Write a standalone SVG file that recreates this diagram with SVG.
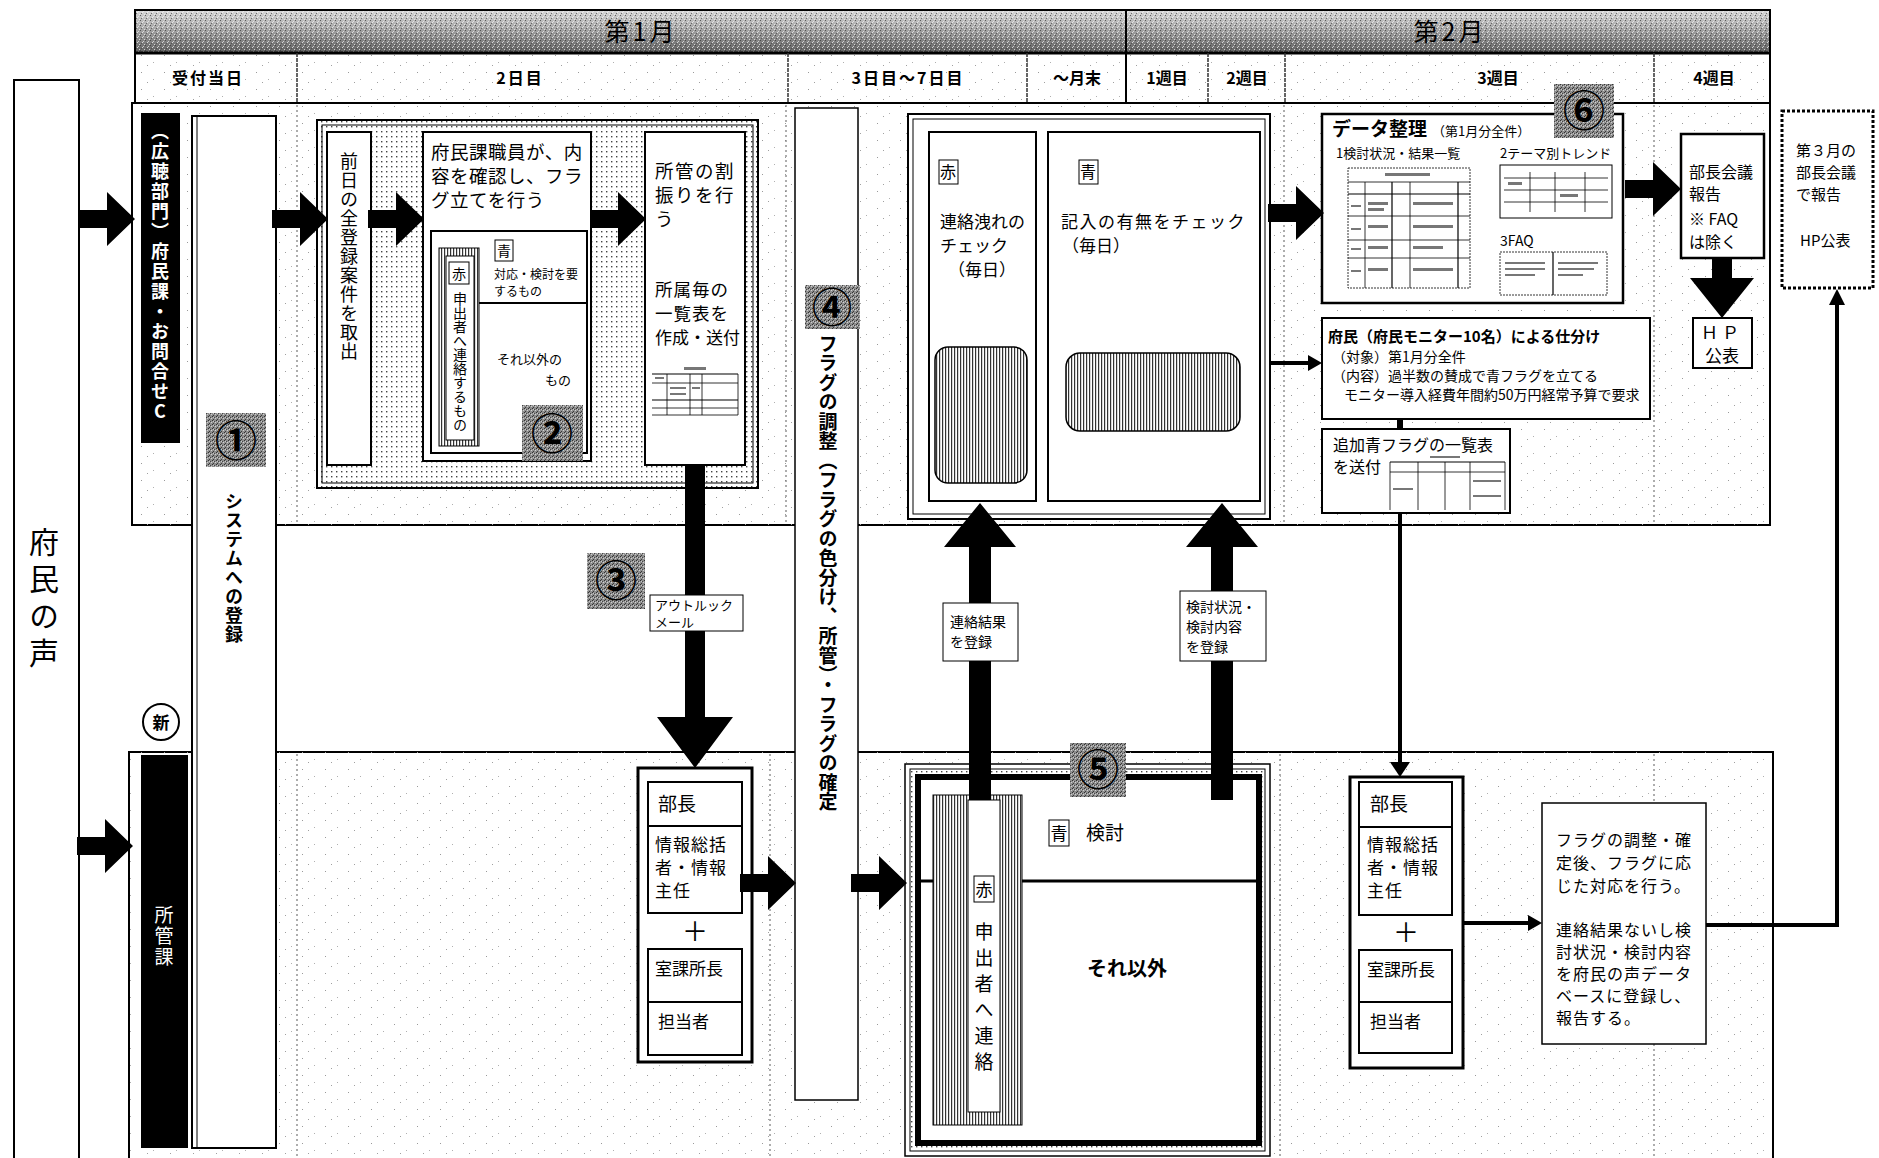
<svg xmlns="http://www.w3.org/2000/svg" width="1879" height="1158" viewBox="0 0 1879 1158">
<style>
text { font-family: 'Noto Sans CJK JP', 'Noto Sans', sans-serif; fill: #000; }
.b { font-weight: bold; }
.v { writing-mode: vertical-rl; text-orientation: upright; }
.box { fill: #fff; stroke: #000; stroke-width: 2; }
.box3 { fill: #fff; stroke: #000; stroke-width: 3; }
.thin { fill: none; stroke: #000; stroke-width: 1.2; }
.tb { fill: none; stroke: #000; stroke-width: 0.8; }
.blk { fill: #000; }
.ln { fill: none; stroke: #000; stroke-width: 4; }
.sep { stroke: #777; stroke-width: 1.2; stroke-dasharray: 2 3; }
.hdiv { stroke: #333; stroke-width: 1.5; stroke-dasharray: 4 1; }
.wt { fill: #fff; }
.scrib { fill: #777; }
</style>
<defs>
  <linearGradient id="hdr" x1="0" y1="0" x2="0" y2="1">
    <stop offset="0" stop-color="#d8d8d8"/>
    <stop offset="0.45" stop-color="#a4a4a4"/>
    <stop offset="1" stop-color="#5e5e5e"/>
  </linearGradient>
  <pattern id="speck" width="23" height="17" patternUnits="userSpaceOnUse">
    <rect x="3" y="4" width="1" height="1" fill="#9a9a9a"/>
    <rect x="15" y="11" width="1" height="1" fill="#b0b0b0"/>
    <rect x="9" y="14" width="1" height="1" fill="#a0a0a0"/>
  </pattern>
  <pattern id="speckD" width="5" height="5" patternUnits="userSpaceOnUse">
    <rect x="0" y="0" width="1" height="1" fill="#333"/>
    <rect x="3" y="1" width="1" height="1" fill="#f4f4f4"/>
    <rect x="1" y="3" width="1" height="1" fill="#444"/>
    <rect x="4" y="4" width="1" height="1" fill="#fafafa"/>
    <rect x="2" y="2" width="1" height="1" fill="#fff"/>
  </pattern>
  <pattern id="dots" width="5" height="5" patternUnits="userSpaceOnUse">
    <rect width="5" height="5" fill="#fff"/>
    <rect x="1" y="1" width="1.4" height="1.4" fill="#444"/>
  </pattern>
  <pattern id="hatch" width="3" height="3" patternUnits="userSpaceOnUse">
    <rect width="3" height="3" fill="#fff"/>
    <rect x="0" y="0" width="1.2" height="3" fill="#333"/>
  </pattern>
  <pattern id="noise" width="4" height="4" patternUnits="userSpaceOnUse">
    <rect width="4" height="4" fill="#8e8e8e"/>
    <rect x="0" y="0" width="1" height="1" fill="#333"/>
    <rect x="2" y="1" width="1" height="1" fill="#444"/>
    <rect x="1" y="3" width="1" height="1" fill="#3a3a3a"/>
    <rect x="3" y="2" width="1" height="1" fill="#d0d0d0"/>
    <rect x="1" y="1" width="1" height="1" fill="#c8c8c8"/>
  </pattern>
  <path id="ar" d="M0,-9 H28 V-27 L56,0 L28,27 V9 H0 Z"/>
</defs>

<rect width="1879" height="1158" fill="#fff"/>

<!-- header -->
<g id="header">
  <rect x="135" y="10" width="1635" height="43" fill="url(#hdr)"/>
  <rect x="135" y="10" width="1635" height="43" fill="url(#speckD)" opacity="0.7"/>
  <rect x="135" y="53" width="1635" height="50" fill="url(#speck)"/>
  <rect x="135" y="10" width="1635" height="93" fill="none" stroke="#000" stroke-width="2"/>
  <line x1="135" y1="53" x2="1770" y2="53" stroke="#000" stroke-width="3"/>
  <line x1="1126" y1="10" x2="1126" y2="103" stroke="#000" stroke-width="2"/>
  <line x1="297" y1="53" x2="297" y2="103" class="hdiv"/>
  <line x1="788" y1="53" x2="788" y2="103" class="hdiv"/>
  <line x1="1027" y1="53" x2="1027" y2="103" class="hdiv"/>
  <line x1="1208" y1="53" x2="1208" y2="103" class="hdiv"/>
  <line x1="1285" y1="53" x2="1285" y2="103" class="hdiv"/>
  <line x1="1654" y1="53" x2="1654" y2="103" class="hdiv"/>
  <text x="641" y="41" font-size="25" text-anchor="middle" letter-spacing="3">第1月</text>
  <text x="1450" y="41" font-size="25" text-anchor="middle" letter-spacing="3">第2月</text>
  <text x="208" y="84" font-size="16" text-anchor="middle" class="b" letter-spacing="2">受付当日</text>
  <text x="520" y="84" font-size="16" text-anchor="middle" class="b" letter-spacing="2">2日目</text>
  <text x="908" y="84" font-size="16" text-anchor="middle" class="b" letter-spacing="2">3日目～7日目</text>
  <text x="1077" y="84" font-size="16" text-anchor="middle" class="b">～月末</text>
  <text x="1167" y="84" font-size="16" text-anchor="middle" class="b">1週目</text>
  <text x="1247" y="84" font-size="16" text-anchor="middle" class="b">2週目</text>
  <text x="1498" y="84" font-size="16" text-anchor="middle" class="b">3週目</text>
  <text x="1714" y="84" font-size="16" text-anchor="middle" class="b">4週目</text>
</g>

<!-- lanes -->
<g id="lane-top">
  <rect x="132" y="103" width="1638" height="422" fill="#fff" stroke="#000" stroke-width="2"/>
  <rect x="132" y="103" width="1638" height="422" fill="url(#speck)"/>
  <line x1="297" y1="105" x2="297" y2="523" class="sep"/>
  <line x1="786" y1="105" x2="786" y2="523" class="sep"/>
  <line x1="1284" y1="105" x2="1284" y2="523" class="sep"/>
  <line x1="1654" y1="105" x2="1654" y2="523" class="sep"/>
</g>
<g id="lane-bottom">
  <rect x="129" y="752" width="1644" height="420" fill="#fff" stroke="#000" stroke-width="2"/>
  <rect x="129" y="752" width="1644" height="420" fill="url(#speck)"/>
  <line x1="297" y1="754" x2="297" y2="1158" class="sep"/>
  <line x1="770" y1="754" x2="770" y2="1158" class="sep"/>
  <line x1="1280" y1="754" x2="1280" y2="1158" class="sep"/>
  <line x1="1654" y1="754" x2="1654" y2="1158" class="sep"/>
</g>

<!-- 府民の声 -->
<g id="fumin-no-koe">
  <rect x="14" y="80" width="65" height="1095" class="box"/>
  <text x="44" y="527" font-size="30" class="v" letter-spacing="7">府民の声</text>
</g>

<g id="label-fuminka">
  <rect x="141" y="113" width="39" height="330" class="blk"/>
  <text x="160" y="122" font-size="18" class="v b wt" letter-spacing="2">（広聴部門）府民課・お問合せC</text>
</g>

<g id="label-shokanka">
  <rect x="141" y="755" width="47" height="393" class="blk"/>
  <text x="164" y="905" font-size="19" class="v wt" letter-spacing="2">所管課</text>
</g>

<g id="shin">
  <circle cx="161" cy="722" r="18" fill="#fff" stroke="#000" stroke-width="2"/>
  <text x="161" y="729" font-size="17" class="b" text-anchor="middle">新</text>
</g>

<!-- ① -->
<g id="step1">
  <rect x="192" y="116" width="84" height="1032" class="box"/>
  <line x1="197" y1="117" x2="197" y2="1147" stroke="#000" stroke-width="1"/>
  <rect x="206" y="413" width="60" height="54" fill="url(#noise)"/>
  <text x="236" y="456" font-size="42" class="b" text-anchor="middle">①</text>
  <text x="234" y="492" font-size="18" class="v b" letter-spacing="1">システムへの登録</text>
</g>

<!-- ② -->
<g id="step2">
  <rect x="317" y="120" width="441" height="368" fill="url(#dots)" stroke="#000" stroke-width="2"/>
  <rect x="322" y="125" width="431" height="358" fill="none" stroke="#000" stroke-width="1"/>
  <g id="toridashi">
    <rect x="327" y="132" width="44" height="333" class="box"/>
    <text x="349" y="152" font-size="18" class="v" letter-spacing="1">前日の全登録案件を取出</text>
  </g>
  <g id="flagtate">
    <rect x="423" y="132" width="168" height="329" class="box"/>
    <text x="431" y="159" font-size="18.5" letter-spacing="0.5">府民課職員が、内</text>
    <text x="431" y="183" font-size="18.5" letter-spacing="0.5">容を確認し、フラ</text>
    <text x="431" y="207" font-size="18.5" letter-spacing="0.5">グ立てを行う</text>
    <rect x="431" y="231" width="156" height="222" fill="#fff" stroke="#000" stroke-width="2"/>
    <line x1="479" y1="303" x2="587" y2="303" stroke="#000" stroke-width="2"/>
    <rect x="439" y="248" width="40" height="198" fill="url(#hatch)" stroke="#000" stroke-width="1"/>
    <rect x="446" y="256" width="28" height="184" fill="#fff" stroke="#000" stroke-width="1"/>
    <rect x="449" y="262" width="20" height="22" fill="#fff" stroke="#000" stroke-width="1"/>
    <text x="459" y="279" font-size="14" text-anchor="middle">赤</text>
    <text x="460" y="292" font-size="14" class="v">申出者へ連絡するもの</text>
    <rect x="495" y="240" width="18" height="21" fill="#fff" stroke="#000" stroke-width="1"/>
    <text x="504" y="256" font-size="14" text-anchor="middle">青</text>
    <text x="494" y="279" font-size="12">対応・検討を要</text>
    <text x="494" y="296" font-size="12">するもの</text>
    <text x="497" y="364" font-size="13">それ以外の</text>
    <text x="545" y="385" font-size="13">もの</text>
    <rect x="522" y="405" width="61" height="56" fill="url(#noise)"/>
    <text x="552" y="449" font-size="42" class="b" text-anchor="middle">②</text>
  </g>
  <g id="warifuri">
    <rect x="645" y="132" width="100" height="333" class="box"/>
    <text x="655" y="178" font-size="18.5" letter-spacing="1.5">所管の割</text>
    <text x="655" y="202" font-size="18.5" letter-spacing="1.5">振りを行</text>
    <text x="655" y="226" font-size="18.5">う</text>
    <text x="655" y="296" font-size="17.5" letter-spacing="1">所属毎の</text>
    <text x="655" y="320" font-size="17.5" letter-spacing="1">一覧表を</text>
    <text x="655" y="344" font-size="17">作成・送付</text>
    <rect x="684" y="367" width="22" height="3" class="scrib"/>
    <line x1="652" y1="374" x2="738" y2="374" stroke="#000" stroke-width="1.2"/>
    <line x1="652" y1="383" x2="738" y2="383" class="tb"/>
    <line x1="652" y1="400" x2="738" y2="400" stroke="#000" stroke-width="1.2"/>
    <line x1="652" y1="408" x2="738" y2="408" class="tb"/>
    <line x1="652" y1="415" x2="738" y2="415" class="tb"/>
    <line x1="667" y1="374" x2="667" y2="415" class="tb"/>
    <line x1="690" y1="374" x2="690" y2="415" class="tb"/>
    <line x1="702" y1="374" x2="702" y2="415" class="tb"/>
    <line x1="738" y1="374" x2="738" y2="415" class="tb"/>
    <rect x="655" y="377" width="9" height="2" class="scrib"/>
    <rect x="670" y="387" width="16" height="2" class="scrib"/>
    <rect x="670" y="393" width="16" height="2" class="scrib"/>
    <rect x="692" y="387" width="8" height="2" class="scrib"/>
  </g>
</g>

<!-- ④ -->
<g id="step4">
  <rect x="795" y="108" width="63" height="992" fill="#fff" stroke="#000" stroke-width="1.5"/>
  <rect x="805" y="285" width="55" height="44" fill="url(#noise)"/>
  <text x="832" y="322" font-size="40" class="b" text-anchor="middle">④</text>
  <text x="828" y="334" font-size="19" class="v b" letter-spacing="0.5">フラグの調整（フラグの色分け、所管）・フラグの確定</text>
</g>

<!-- 赤/青 check -->
<g id="check">
  <rect x="908" y="114" width="362" height="405" fill="#fff" stroke="#000" stroke-width="2"/>
  <rect x="913" y="119" width="352" height="395" fill="none" stroke="#000" stroke-width="1"/>
  <g id="check-aka">
    <rect x="929" y="132" width="107" height="369" class="box"/>
    <rect x="939" y="160" width="19" height="24" fill="#fff" stroke="#000" stroke-width="1"/>
    <text x="948" y="178" font-size="16" text-anchor="middle">赤</text>
    <text x="940" y="228" font-size="17">連絡洩れの</text>
    <text x="940" y="252" font-size="17">チェック</text>
    <text x="948" y="276" font-size="17">（毎日）</text>
    <rect x="935" y="347" width="92" height="136" rx="13" fill="url(#hatch)" stroke="#000" stroke-width="1.5"/>
  </g>
  <g id="check-ao">
    <rect x="1048" y="132" width="212" height="369" class="box"/>
    <rect x="1079" y="160" width="19" height="24" fill="#fff" stroke="#000" stroke-width="1"/>
    <text x="1088" y="178" font-size="16" text-anchor="middle">青</text>
    <text x="1061" y="228" font-size="17" letter-spacing="1.5">記入の有無をチェック</text>
    <text x="1062" y="252" font-size="17">（毎日）</text>
    <rect x="1066" y="353" width="174" height="78" rx="14" fill="url(#hatch)" stroke="#000" stroke-width="1.5"/>
  </g>
</g>

<!-- ⑤ -->
<g id="step5">
  <rect x="905" y="764" width="365" height="392" fill="#fff" stroke="#000" stroke-width="1.5"/>
  <rect x="910" y="769" width="355" height="382" fill="url(#dots)" stroke="#000" stroke-width="1"/>
  <rect x="918" y="777" width="341" height="366" fill="#fff" stroke="#000" stroke-width="6"/>
  <line x1="918" y1="881" x2="1259" y2="881" stroke="#000" stroke-width="3"/>
  <rect x="933" y="795" width="89" height="330" fill="url(#hatch)" stroke="#000" stroke-width="1"/>
  <rect x="968" y="800" width="32" height="312" fill="#fff" stroke="#000" stroke-width="1"/>
  <rect x="974" y="876" width="20" height="26" fill="#fff" stroke="#000" stroke-width="1"/>
  <text x="984" y="896" font-size="17" text-anchor="middle">赤</text>
  <text x="984" y="922" font-size="19" class="v" letter-spacing="7">申出者へ連絡</text>
  <rect x="1049" y="820" width="20" height="26" fill="#fff" stroke="#000" stroke-width="1"/>
  <text x="1059" y="840" font-size="17" text-anchor="middle">青</text>
  <text x="1086" y="840" font-size="19">検討</text>
  <text x="1127" y="976" font-size="20" class="b" text-anchor="middle">それ以外</text>
  <rect x="1070" y="743" width="56" height="54" fill="url(#noise)"/>
  <text x="1098" y="785" font-size="42" class="b" text-anchor="middle">⑤</text>
</g>

<!-- stacks -->
<g id="stack-left">
  <rect x="638" y="768" width="114" height="294" class="box3"/>
  <rect x="648" y="782" width="94" height="44" class="box"/>
  <rect x="648" y="826" width="94" height="87" class="box"/>
  <rect x="648" y="949" width="94" height="53" class="box"/>
  <rect x="648" y="1002" width="94" height="53" class="box"/>
  <text x="658" y="811" font-size="19">部長</text>
  <text x="655" y="851" font-size="17" letter-spacing="1">情報総括</text>
  <text x="655" y="874" font-size="17" letter-spacing="1">者・情報</text>
  <text x="655" y="897" font-size="17" letter-spacing="1">主任</text>
  <text x="695" y="941" font-size="26" text-anchor="middle">＋</text>
  <text x="655" y="975" font-size="17">室課所長</text>
  <text x="658" y="1028" font-size="17">担当者</text>
</g>
<g id="stack-right">
  <rect x="1350" y="777" width="113" height="291" class="box3"/>
  <rect x="1359" y="782" width="93" height="45" class="box"/>
  <rect x="1359" y="827" width="93" height="88" class="box"/>
  <rect x="1359" y="950" width="93" height="52" class="box"/>
  <rect x="1359" y="1002" width="93" height="51" class="box"/>
  <text x="1370" y="811" font-size="19">部長</text>
  <text x="1367" y="851" font-size="17" letter-spacing="1">情報総括</text>
  <text x="1367" y="874" font-size="17" letter-spacing="1">者・情報</text>
  <text x="1367" y="897" font-size="17" letter-spacing="1">主任</text>
  <text x="1406" y="942" font-size="26" text-anchor="middle">＋</text>
  <text x="1367" y="976" font-size="17">室課所長</text>
  <text x="1370" y="1028" font-size="17">担当者</text>
</g>

<g id="taio">
  <rect x="1542" y="803" width="164" height="241" fill="#fff" stroke="#000" stroke-width="1.5"/>
  <text x="1556" y="846" font-size="16" letter-spacing="1">フラグの調整・確</text>
  <text x="1556" y="869" font-size="16" letter-spacing="1">定後、フラグに応</text>
  <text x="1556" y="892" font-size="16" letter-spacing="1">じた対応を行う。</text>
  <text x="1556" y="936" font-size="16" letter-spacing="1">連絡結果ないし検</text>
  <text x="1556" y="958" font-size="16" letter-spacing="1">討状況・検討内容</text>
  <text x="1556" y="980" font-size="16" letter-spacing="1">を府民の声データ</text>
  <text x="1556" y="1002" font-size="16" letter-spacing="1">ベースに登録し、</text>
  <text x="1556" y="1024" font-size="16" letter-spacing="1">報告する。</text>
</g>

<!-- ⑥ data -->
<g id="step6">
  <rect x="1322" y="114" width="301" height="189" fill="#fff" stroke="#000" stroke-width="2.5"/>
  <text x="1332" y="136" font-size="19" class="b">データ整理</text>
  <text x="1432" y="136" font-size="13">（第1月分全件）</text>
  <text x="1336" y="158" font-size="13">1検討状況・結果一覧</text>
  <text x="1500" y="158" font-size="13">2テーマ別トレンド</text>
  <text x="1500" y="246" font-size="14">3FAQ</text>
  <g id="tbl1">
    <rect x="1348" y="168" width="122" height="120" fill="none" stroke="#000" stroke-width="0.8" stroke-dasharray="2 1"/>
    <rect x="1385" y="173" width="45" height="3" class="scrib"/>
    <line x1="1348" y1="182" x2="1470" y2="182" class="tb"/>
    <line x1="1348" y1="194" x2="1470" y2="194" stroke="#000" stroke-width="1.2"/>
    <line x1="1348" y1="216" x2="1470" y2="216" class="tb"/>
    <line x1="1348" y1="240" x2="1470" y2="240" class="tb"/>
    <line x1="1348" y1="258" x2="1470" y2="258" class="tb"/>
    <line x1="1365" y1="182" x2="1365" y2="288" class="tb"/>
    <line x1="1392" y1="182" x2="1392" y2="288" stroke="#000" stroke-width="1.2"/>
    <line x1="1410" y1="182" x2="1410" y2="288" class="tb"/>
    <line x1="1458" y1="182" x2="1458" y2="288" stroke="#000" stroke-width="1.2"/>
    <rect x="1368" y="202" width="20" height="3" class="scrib"/><rect x="1368" y="208" width="16" height="3" class="scrib"/>
    <rect x="1413" y="202" width="40" height="3" class="scrib"/>
    <rect x="1368" y="225" width="20" height="3" class="scrib"/><rect x="1413" y="225" width="40" height="3" class="scrib"/>
    <rect x="1368" y="246" width="20" height="3" class="scrib"/><rect x="1413" y="246" width="30" height="3" class="scrib"/>
    <rect x="1368" y="268" width="20" height="3" class="scrib"/><rect x="1413" y="268" width="40" height="3" class="scrib"/>
    <rect x="1351" y="205" width="10" height="2" class="scrib"/><rect x="1351" y="228" width="10" height="2" class="scrib"/>
    <rect x="1351" y="248" width="10" height="2" class="scrib"/><rect x="1351" y="270" width="10" height="2" class="scrib"/>
  </g>
  <g id="tbl2">
    <rect x="1500" y="165" width="112" height="53" fill="none" stroke="#000" stroke-width="1"/>
    <line x1="1504" y1="178" x2="1608" y2="178" class="tb"/>
    <line x1="1504" y1="190" x2="1608" y2="190" class="tb"/>
    <line x1="1504" y1="202" x2="1608" y2="202" class="tb"/>
    <line x1="1530" y1="172" x2="1530" y2="212" class="tb"/>
    <line x1="1555" y1="172" x2="1555" y2="212" class="tb"/>
    <line x1="1585" y1="172" x2="1585" y2="212" class="tb"/>
    <rect x="1508" y="182" width="14" height="3" class="scrib"/><rect x="1560" y="194" width="18" height="3" class="scrib"/>
  </g>
  <g id="tbl3">
    <rect x="1500" y="252" width="107" height="43" fill="none" stroke="#000" stroke-width="0.8" stroke-dasharray="2 1"/>
    <line x1="1553" y1="252" x2="1553" y2="295" stroke="#000" stroke-width="1.2"/>
    <rect x="1505" y="262" width="40" height="2" class="scrib"/><rect x="1505" y="268" width="40" height="2" class="scrib"/><rect x="1505" y="274" width="30" height="2" class="scrib"/>
    <rect x="1558" y="262" width="40" height="2" class="scrib"/><rect x="1558" y="268" width="36" height="2" class="scrib"/><rect x="1558" y="274" width="25" height="2" class="scrib"/>
  </g>
  <rect x="1554" y="84" width="60" height="54" fill="url(#noise)"/>
  <text x="1584" y="126" font-size="42" class="b" text-anchor="middle">⑥</text>
</g>

<g id="monitor">
  <rect x="1322" y="318" width="328" height="101" class="box"/>
  <text x="1328" y="342" font-size="15" class="b">府民（府民モニター10名）による仕分け</text>
  <text x="1332" y="362" font-size="14">（対象）第1月分全件</text>
  <text x="1332" y="381" font-size="14">（内容）過半数の賛成で青フラグを立てる</text>
  <text x="1344" y="400" font-size="14">モニター導入経費年間約50万円経常予算で要求</text>
</g>

<g id="tsuika">
  <rect x="1322" y="429" width="188" height="84" class="box"/>
  <text x="1333" y="451" font-size="16">追加青フラグの一覧表</text>
  <text x="1333" y="473" font-size="16">を送付</text>
  <rect x="1430" y="456" width="30" height="2" class="scrib"/>
  <line x1="1390" y1="462" x2="1505" y2="462" stroke="#000" stroke-width="1"/>
  <line x1="1390" y1="472" x2="1505" y2="472" class="tb"/>
  <line x1="1390" y1="462" x2="1390" y2="510" class="tb"/>
  <line x1="1418" y1="462" x2="1418" y2="510" class="tb"/>
  <line x1="1445" y1="462" x2="1445" y2="510" class="tb"/>
  <line x1="1470" y1="462" x2="1470" y2="510" class="tb"/>
  <line x1="1505" y1="462" x2="1505" y2="510" class="tb"/>
  <rect x="1393" y="488" width="20" height="2" class="scrib"/><rect x="1473" y="480" width="28" height="2" class="scrib"/><rect x="1473" y="495" width="28" height="2" class="scrib"/>
</g>

<g id="buchokaigi">
  <rect x="1681" y="134" width="83" height="124" fill="#fff" stroke="#000" stroke-width="2.5"/>
  <text x="1689" y="178" font-size="16">部長会議</text>
  <text x="1689" y="200" font-size="16">報告</text>
  <text x="1689" y="225" font-size="16">※ FAQ</text>
  <text x="1689" y="248" font-size="16">は除く</text>
</g>

<g id="hp">
  <rect x="1693" y="318" width="59" height="50" fill="#fff" stroke="#000" stroke-width="2"/>
  <text x="1722" y="339" font-size="17" text-anchor="middle" letter-spacing="4">ＨＰ</text>
  <text x="1722" y="362" font-size="17" text-anchor="middle">公表</text>
</g>

<g id="dai3">
  <rect x="1782" y="111" width="91" height="177" fill="#fff" stroke="#000" stroke-width="3" stroke-dasharray="3 2"/>
  <text x="1796" y="156" font-size="15">第３月の</text>
  <text x="1796" y="178" font-size="15">部長会議</text>
  <text x="1796" y="200" font-size="15">で報告</text>
  <text x="1800" y="246" font-size="15">HP公表</text>
</g>

<!-- connectors -->
<g id="connectors">
  <use href="#ar" x="79" y="219"/>
  <use href="#ar" x="77" y="846"/>
  <use href="#ar" x="272" y="219"/>
  <use href="#ar" x="368" y="219"/>
  <use href="#ar" x="590" y="219"/>
  <use href="#ar" x="740" y="883"/>
  <use href="#ar" x="851" y="883"/>
  <use href="#ar" x="1268" y="213"/>
  <use href="#ar" x="1625" y="189"/>
  <polygon points="685,465 705,465 705,717 733,717 695,768 657,717 685,717" class="blk"/>
  <polygon points="969,800 991,800 991,547 1016,547 980,503 944,547 969,547" class="blk"/>
  <polygon points="1211,800 1233,800 1233,547 1258,547 1222,503 1186,547 1211,547" class="blk"/>
  <polygon points="1712,258 1732,258 1732,278 1754,278 1722,318 1690,278 1712,278" class="blk"/>
  <line x1="1270" y1="363" x2="1310" y2="363" class="ln"/>
  <polygon points="1308,355 1322,363 1308,371" class="blk"/>
  <line x1="1400" y1="419" x2="1400" y2="429" stroke="#000" stroke-width="6"/>
  <line x1="1400" y1="513" x2="1400" y2="765" class="ln"/>
  <polygon points="1390,762 1410,762 1400,777" class="blk"/>
  <line x1="1463" y1="923" x2="1530" y2="923" class="ln"/>
  <polygon points="1528,915 1542,923 1528,931" class="blk"/>
  <polyline points="1706,925 1837,925 1837,304" class="ln"/>
  <polygon points="1829,305 1845,305 1837,289" class="blk"/>
  <g id="lbl-outlook">
    <rect x="650" y="595" width="93" height="36" fill="#fff" stroke="#000" stroke-width="1"/>
    <text x="655" y="610" font-size="13">アウトルック</text>
    <text x="655" y="627" font-size="13">メール</text>
  </g>
  <g id="badge3">
    <rect x="587" y="553" width="58" height="56" fill="url(#noise)"/>
    <text x="616" y="596" font-size="42" class="b" text-anchor="middle">③</text>
  </g>
  <g id="lbl-renraku">
    <rect x="943" y="603" width="75" height="58" fill="#fff" stroke="#000" stroke-width="1"/>
    <text x="950" y="627" font-size="14">連絡結果</text>
    <text x="950" y="647" font-size="14">を登録</text>
  </g>
  <g id="lbl-kento">
    <rect x="1180" y="591" width="86" height="70" fill="#fff" stroke="#000" stroke-width="1"/>
    <text x="1186" y="612" font-size="14">検討状況・</text>
    <text x="1186" y="632" font-size="14">検討内容</text>
    <text x="1186" y="652" font-size="14">を登録</text>
  </g>
</g>
</svg>
